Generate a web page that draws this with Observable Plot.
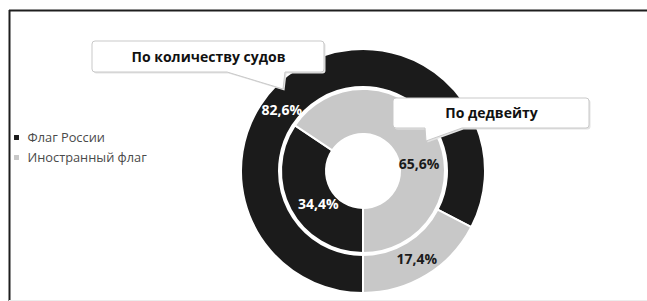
<!DOCTYPE html>
<html>
<head>
<meta charset="utf-8">
<script src="https://cdn.jsdelivr.net/npm/d3@7"></script>
<script src="https://cdn.jsdelivr.net/npm/@observablehq/plot@0.6"></script>
<style>
  html, body { margin: 0; padding: 0; background: #fff; }
  #chart svg { display: block; }
</style>
</head>
<body>
<div id="chart"></div>
<script>
// ---- data ----
const categories = ["Флаг России", "Иностранный флаг"];
const byVessels = [82.6, 17.4];      // outer ring, % of vessels
const byDeadweight = [34.4, 65.6];   // inner ring, % of deadweight
const ringNames = ["По количеству судов", "По дедвейту"];
const sliceColors = ["#1b1b1b", "#c8c8c8"];
const labelColors = ["#ffffff", "#1b1b1b"];

// ---- layout ----
const W = 647, H = 301;
const center = {x: 363, y: 171};
const rings = [
  {values: byVessels, inner: 84, outer: 122, labelPolar: [[306.7, 102], [148.8, 103]]},
  {values: byDeadweight, inner: 37, outer: 82, labelPolar: [[233.7, 56], [82.9, 56]]}
];
const callouts = [
  {x0: 92, x1: 324, y0: 41, y1: 72, ptr: [[227, 72], [285, 72], [283, 89]]},
  {x0: 393, x1: 589, y0: 98, y1: 128, ptr: [[425, 128], [462, 128], [426, 141]]}
];

const fmt = v => v.toFixed(1).replace(".", ",") + "%";
const pie = d3.pie().sort(null).startAngle(Math.PI).endAngle(3 * Math.PI);

// slices table built from the data arrays
const slices = rings.flatMap((ring, ri) =>
  pie(ring.values).map((a, i) => ({ring: ri, cat: i, ...a, inner: ring.inner, outer: ring.outer}))
);
const labels = rings.flatMap((ring, ri) =>
  ring.values.map((v, i) => {
    const [deg, r] = ring.labelPolar[i];
    const t = deg * Math.PI / 180;
    return {text: fmt(v), cat: i, x: center.x + r * Math.sin(t), y: center.y - r * Math.cos(t)};
  })
);
const calloutLabels = callouts.map((c, i) => ({text: ringNames[i], x: (c.x0 + c.x1) / 2, y: (c.y0 + c.y1) / 2 + 0.5}));
const legend = categories.map((c, i) => ({name: c, cat: i, y: 137 + i * 20}));

const svgNS = "http://www.w3.org/2000/svg";

function arcsMark(index, scales) {
  const g = document.createElementNS(svgNS, "g");
  const cx = scales.x(center.x), cy = scales.y(center.y);
  g.setAttribute("transform", `translate(${cx},${cy})`);
  for (const s of slices) {
    const p = document.createElementNS(svgNS, "path");
    p.setAttribute("d", d3.arc().innerRadius(s.inner).outerRadius(s.outer)(s));
    p.setAttribute("fill", sliceColors[s.cat]);
    p.setAttribute("stroke", "#fff");
    p.setAttribute("stroke-width", 2);
    g.appendChild(p);
  }
  return g;
}

function calloutsMark(index, scales) {
  const g = document.createElementNS(svgNS, "g");
  for (const c of callouts) {
    const X = v => scales.x(v), Y = v => scales.y(v);
    const r = 3;
    const [a, b, tip] = c.ptr;
    const d = [
      `M${X(c.x0) + r},${Y(c.y0)}`,
      `H${X(c.x1) - r}`, `Q${X(c.x1)},${Y(c.y0)} ${X(c.x1)},${Y(c.y0) + r}`,
      `V${Y(c.y1) - r}`, `Q${X(c.x1)},${Y(c.y1)} ${X(c.x1) - r},${Y(c.y1)}`,
      `H${X(b[0])}`, `L${X(tip[0])},${Y(tip[1])}`, `L${X(a[0])},${Y(a[1])}`,
      `H${X(c.x0) + r}`, `Q${X(c.x0)},${Y(c.y1)} ${X(c.x0)},${Y(c.y1) - r}`,
      `V${Y(c.y0) + r}`, `Q${X(c.x0)},${Y(c.y0)} ${X(c.x0) + r},${Y(c.y0)}`, "Z"
    ].join(" ");
    const shadow = document.createElementNS(svgNS, "path");
    shadow.setAttribute("d", d);
    shadow.setAttribute("fill", "#e3e3e3");
    shadow.setAttribute("transform", "translate(1.5,1.5)");
    g.appendChild(shadow);
    const p = document.createElementNS(svgNS, "path");
    p.setAttribute("d", d);
    p.setAttribute("fill", "#fff");
    p.setAttribute("stroke", "#c9c9c9");
    p.setAttribute("stroke-width", 1);
    g.appendChild(p);
  }
  return g;
}

const chart = Plot.plot({
  width: W,
  height: H,
  margin: 0,
  x: {domain: [0, W], range: [0, W], axis: null},
  y: {domain: [0, H], range: [0, H], axis: null},
  style: {fontFamily: "'Open Sans', sans-serif", background: "#fff"},
  marks: [
    // frame
    Plot.ruleY([10], {x1: 9, x2: W, stroke: "#1e1e1e", strokeWidth: 2}),
    Plot.ruleX([9], {y1: 10, y2: H, stroke: "#1e1e1e", strokeWidth: 2}),
    Plot.ruleY([300], {x1: 9, x2: W, stroke: "#ececec", strokeWidth: 1}),
    arcsMark,
    Plot.text(labels, {
      x: "x", y: "y", text: "text",
      fill: d => labelColors[d.cat],
      fontSize: 14, fontWeight: "bold"
    }),
    calloutsMark,
    Plot.text(calloutLabels, {
      x: "x", y: "y", text: "text",
      fill: "#111", fontSize: 14, fontWeight: "bold"
    }),
    Plot.dot(legend, {
      x: 16, y: "y", symbol: "square", r: 2.8,
      fill: d => sliceColors[d.cat], stroke: null
    }),
    Plot.text(legend, {
      x: 27, y: "y", text: "name", textAnchor: "start",
      fill: "#4a4a4a", fontSize: 12.8
    })
  ]
});

document.getElementById("chart").appendChild(chart);
</script>
</body>
</html>
